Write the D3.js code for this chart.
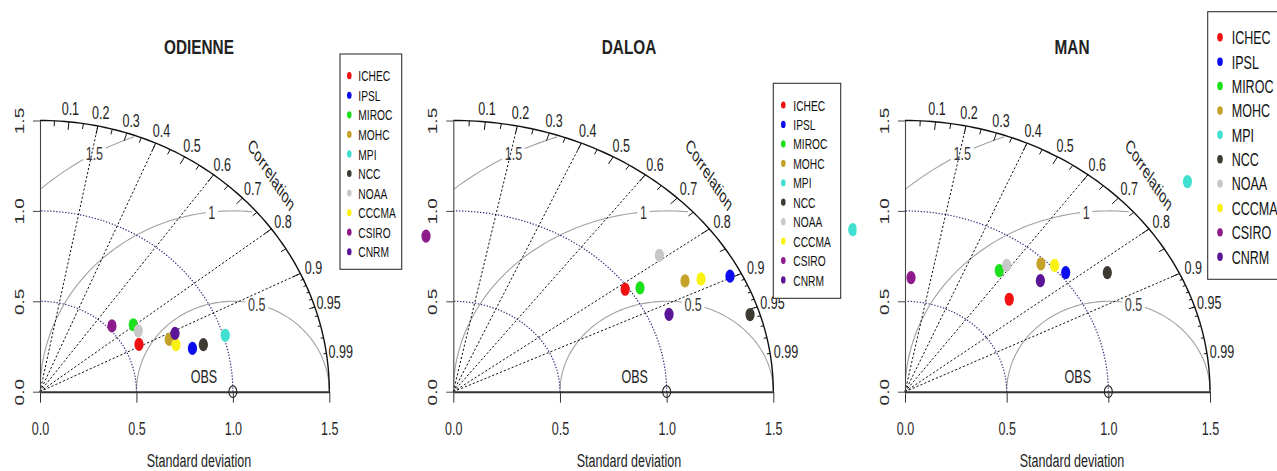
<!DOCTYPE html>
<html>
<head>
<meta charset="utf-8">
<script src="https://cdn.jsdelivr.net/npm/d3@7/dist/d3.min.js"></script>
<style>
  body { margin: 0; background: #fff; }
  text { font-family: "Liberation Sans", Arial, sans-serif; fill: #222; }
</style>
</head>
<body>
<svg id="chart" width="1277" height="471"></svg>
<script>
// models, in legend order (also the drawing order of the points)
var models = ['ICHEC', 'IPSL', 'MIROC', 'MOHC', 'MPI', 'NCC', 'NOAA', 'CCCMA', 'CSIRO', 'CNRM'];
var modelColors = ['#f01212', '#0c0cee', '#1be01b', '#c4a22a', '#40e0d0', '#3d3a33', '#c8c8c8', '#f9f212', '#8e1b8c', '#5a1696'];

// standard deviation (normalised) and correlation
var odienneSd  = [0.576, 0.826, 0.609, 0.730, 1.010, 0.886, 0.611, 0.752, 0.521, 0.771];
var odienneCor = [0.891, 0.957, 0.794, 0.918, 0.951, 0.956, 0.834, 0.938, 0.716, 0.908];
var daloaSd    = [0.985, 1.446, 1.047, 1.247, 2.076, 1.455, 1.226, 1.318, 0.870, 1.098];
var daloaCor   = [0.818, 0.897, 0.836, 0.871, 0.902, 0.956, 0.788, 0.881, -0.147, 0.921];
var manSd      = [0.724, 1.029, 0.815, 0.973, 1.811, 1.193, 0.859, 1.015, 0.632, 0.906];
var manCor     = [0.708, 0.768, 0.569, 0.687, 0.767, 0.834, 0.582, 0.725, 0.047, 0.735];

var sdTicks = [0, 0.5, 1, 1.5];
var corLabels = [0.1, 0.2, 0.3, 0.4, 0.5, 0.6, 0.7, 0.8, 0.9, 0.95, 0.99];
var corLines = [0.2, 0.4, 0.6, 0.8, 0.9];
var rmsLevels = [0.5, 1, 1.5];
var sdArcs = [0.5, 1];
var refSd = 1, maxSd = 1.5;

var SX = 0.66;      // the picture is squeezed sideways, text too
var Y0 = 391.7, Y1 = 120.5;

var panels = [
    { title: 'ODIENNE', sd: odienneSd, cor: odienneCor, x0: 40, x1: 329.3, cx: 199, clip: [0, 426],
      legend: { x: 340, y: 54, w: 61.7, h: 215.3, first: 75.7, step: 19.56, dot: 9.3, txt: 18.3, size: 15.5 } },
    { title: 'DALOA', sd: daloaSd, cor: daloaCor, x0: 453.3, x1: 773.3, cx: 629, clip: [415, 856.5],
      legend: { x: 773.3, y: 83.3, w: 67.4, h: 215, first: 105, step: 19.44, dot: 10, txt: 20, size: 15.5 } },
    { title: 'MAN', sd: manSd, cor: manCor, x0: 905, x1: 1210, cx: 1072, clip: [856.5, 1277],
      legend: { x: 1207.7, y: 11.7, w: 100, h: 267.6, first: 37.3, step: 24.38, dot: 12.3, txt: 24, size: 19 } }
];

var svg = d3.select('#chart');
svg.append('rect').attr('width', 1277).attr('height', 471).attr('fill', '#fff');
var defs = svg.append('defs');
var line = d3.line();

/*
 * Text that is squeezed horizontally like the rest of the picture.
 */
function label(g, px, py, str, size, anchor, rot, weight) {
    var t = g.append('text')
        .attr('transform', 'translate(' + px + ',' + py + ') scale(' + SX + ',1)' + (rot ? ' rotate(' + rot + ')' : ''))
        .attr('text-anchor', anchor || 'middle')
        .attr('font-size', size)
        .text(str);
    if (weight) t.attr('font-weight', weight);
    return t;
}

function drawPanel(p, i) {
    var x = d3.scaleLinear().domain([0, maxSd]).range([p.x0, p.x1]);
    var y = d3.scaleLinear().domain([0, maxSd]).range([Y0, Y1]);
    function pt(r, a) { return [x(r * Math.cos(a)), y(r * Math.sin(a))]; }

    defs.append('clipPath').attr('id', 'fig' + i)
      .append('rect').attr('x', p.clip[0]).attr('y', 0).attr('width', p.clip[1] - p.clip[0]).attr('height', 471);
    defs.append('clipPath').attr('id', 'plot' + i)
      .append('rect').attr('x', x(0)).attr('y', 0).attr('width', x(maxSd) - x(0) + 40).attr('height', Y0);

    var g = svg.append('g').attr('clip-path', 'url(#fig' + i + ')');

    // centred RMS arcs round the reference point
    var plotG = g.append('g').attr('clip-path', 'url(#plot' + i + ')');
    var steps = d3.range(0, Math.PI, 0.03);
    rmsLevels.forEach(function (gm) {
        var pts = steps.map(function (a) { return [refSd + gm * Math.cos(a), gm * Math.sin(a)]; })
            .filter(function (d) { return d[0] * d[0] + d[1] * d[1] < maxSd * maxSd; });
        plotG.append('path')
            .attr('d', line(pts.map(function (d) { return [x(d[0]), y(d[1])]; })))
            .attr('fill', 'none').attr('stroke', '#a2a2a2').attr('stroke-width', 1.1);
    });
    rmsLevels.forEach(function (gm, k) {
        var idx = Math.floor(45 + k * 25 / (rmsLevels.length - 1));
        var a = (idx - 1) * 0.03;
        var lx = x(refSd + gm * Math.cos(a)), ly = y(gm * Math.sin(a));
        var lg = g.append('g').attr('transform', 'translate(' + lx + ',' + ly + ') scale(' + SX + ',1)');
        var t = lg.append('text').attr('text-anchor', 'middle').attr('dy', '0.35em')
            .attr('font-size', 19).style('fill', '#3a3a3a').text(String(gm));
        var bb = t.node().getBBox();
        lg.insert('rect', 'text')
            .attr('x', bb.x - 4).attr('y', bb.y + 1).attr('width', bb.width + 8).attr('height', bb.height - 2)
            .attr('fill', '#fff');
    });

    // standard deviation arcs
    var quarter = d3.range(0, 91).map(function (d) { return d * Math.PI / 180; });
    sdArcs.forEach(function (r) {
        g.append('path').attr('d', line(quarter.map(function (a) { return pt(r, a); })))
            .attr('fill', 'none').attr('stroke', '#2b2b7a').attr('stroke-width', 1.2)
            .attr('stroke-dasharray', '1.3,1.7');
    });

    // correlation rays
    corLines.forEach(function (c) {
        var a = Math.acos(c);
        g.append('path').attr('d', line([pt(0, 0), pt(maxSd, a)]))
            .attr('stroke', '#111').attr('stroke-width', 1).attr('stroke-dasharray', '2.2,2');
    });

    // outer arc and its ticks
    g.append('path').attr('d', line(quarter.map(function (a) { return pt(maxSd, a); })))
        .attr('fill', 'none').attr('stroke', '#111').attr('stroke-width', 1.4);
    [[d3.range(1, 10).map(function (d) { return d / 10; }), 0.97],
     [d3.range(0, 10).map(function (d) { return 0.05 + d / 10; }), 0.98],
     [d3.range(1, 10).map(function (d) { return 0.9 + d / 100; }), 0.99]].forEach(function (set) {
        set[0].forEach(function (c) {
            var a = Math.acos(c);
            g.append('path').attr('d', line([pt(maxSd, a), pt(maxSd * set[1], a)]))
                .attr('stroke', '#111').attr('stroke-width', 1);
        });
    });

    // axes
    var xAxis = d3.axisBottom(x).tickValues(sdTicks).tickFormat(d3.format('.1f')).tickSize(11).tickSizeOuter(0);
    var ax = g.append('g').attr('transform', 'translate(0,' + Y0 + ')').call(xAxis);
    ax.select('.domain').attr('stroke', '#333').attr('stroke-width', 2);
    ax.selectAll('.tick line').attr('stroke', '#333');
    ax.selectAll('.tick text').attr('y', 43.3).attr('dy', null).attr('font-size', 19)
        .attr('font-family', null).attr('transform', 'scale(' + SX + ',1)');

    var yAxis = d3.axisLeft(y).tickValues(sdTicks).tickFormat(d3.format('.1f')).tickSize(7).tickSizeOuter(0);
    var ay = g.append('g').attr('transform', 'translate(' + x(0) + ',0)').call(yAxis);
    ay.select('.domain').attr('stroke', '#444').attr('stroke-width', 1.1);
    ay.selectAll('.tick line').attr('stroke', '#444');
    ay.selectAll('.tick text').attr('x', 0).attr('dy', null).attr('font-size', 19).attr('font-family', null)
        .attr('text-anchor', 'middle').attr('transform', 'translate(-16.5,0) scale(' + SX + ',1) rotate(-90)');
    g.selectAll('.tick text').style('fill', '#2a2a2a');

    // correlation labels
    corLabels.forEach(function (c) {
        var q = pt(1.05 * maxSd, Math.acos(c));
        label(g, q[0], q[1], String(c), 19).attr('dy', '0.35em');
    });
    label(g, x(0.8 * maxSd), y(0.8 * maxSd), 'Correlation', 19, 'middle', 45).attr('dy', '0.35em');

    label(g, p.cx, 53.5, p.title, 21, 'middle', 0, 'bold').attr('transform',
        'translate(' + p.cx + ',53.5) scale(0.73,1)');
    label(g, p.cx, 467.3, 'Standard deviation', 19);
    label(g, x(refSd - 0.15), y(0.083), 'OBS', 19).attr('dy', '0.35em');

    // model points
    g.selectAll('ellipse.model')
        .data(p.sd.map(function (s, k) { return { sd: s, cor: p.cor[k], k: k }; }))
        .enter().append('ellipse')
        .attr('class', 'model')
        .attr('cx', function (d) { return x(d.sd * d.cor); })
        .attr('cy', function (d) { return y(d.sd * Math.sqrt(1 - d.cor * d.cor)); })
        .attr('rx', 4.6).attr('ry', 6.6)
        .attr('fill', function (d) { return modelColors[d.k]; });

    // reference point
    g.append('ellipse').attr('cx', x(refSd)).attr('cy', y(0)).attr('rx', 4).attr('ry', 5.8)
        .attr('fill', 'none').attr('stroke', '#222').attr('stroke-width', 1.1);

    // legend
    var L = p.legend;
    g.append('rect').attr('x', L.x).attr('y', L.y).attr('width', L.w).attr('height', L.h)
        .attr('fill', '#fff').attr('stroke', '#333').attr('stroke-width', 1.1);
    models.forEach(function (m, k) {
        var ly = L.first + k * L.step;
        g.append('ellipse').attr('cx', L.x + L.dot).attr('cy', ly)
            .attr('rx', L.size > 16 ? 2.8 : 2.3).attr('ry', L.size > 16 ? 4.2 : 3.6)
            .attr('fill', modelColors[k]);
        label(g, L.x + L.txt, ly, m, L.size, 'start').attr('dy', '0.36em').style('fill', '#111');
    });
}

panels.forEach(drawPanel);
</script>
</body>
</html>
